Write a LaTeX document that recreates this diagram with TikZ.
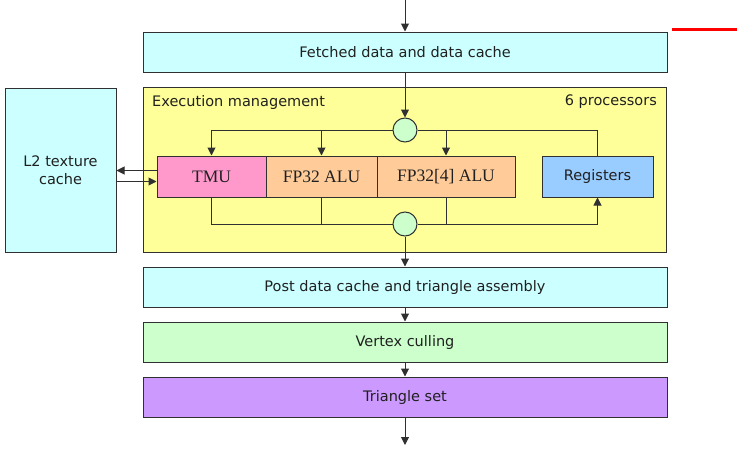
\documentclass[tikz,border=0pt]{standalone}
\usepackage{fontspec}
\setmainfont{DejaVu Sans}
\newfontfamily\serifface{Liberation Serif}
\usetikzlibrary{arrows.meta}

\definecolor{edge}{HTML}{303030}
\definecolor{ink}{HTML}{202020}
\definecolor{cyanfill}{HTML}{CCFFFF}
\definecolor{yellowfill}{HTML}{FFFF99}
\definecolor{pinkfill}{HTML}{FF99CC}
\definecolor{orangefill}{HTML}{FFCC99}
\definecolor{bluefill}{HTML}{99CCFF}
\definecolor{greenfill}{HTML}{CCFFCC}
\definecolor{violetfill}{HTML}{CC99FF}

\begin{document}
\begin{tikzpicture}[x=1pt,y=-1pt,
  box/.style={draw=edge, line width=1pt, inner sep=0pt, text=ink,
    font=\fontsize{14.5}{17}\selectfont},
  wide/.style={box, minimum width=524pt, minimum height=40pt},
  unit/.style={box, minimum height=41pt},
  serifunit/.style={unit, font=\serifface\fontsize{17.5}{20}\selectfont},
  junction/.style={draw=edge, line width=1pt, circle, fill=greenfill,
    minimum size=24pt, inner sep=0pt},
  lbl/.style={inner sep=0pt, text=ink, font=\fontsize{14.5}{17}\selectfont},
  arr/.style={draw=edge, line width=1pt, -{Triangle[length=8pt,width=8pt]}},
  wire/.style={draw=edge, line width=1pt},
]
\useasboundingbox (0,0) rectangle (737,450);

% pipeline stages
\node[wide, fill=cyanfill] (fetch) at (405,52) {Fetched data and data cache};
\node[box, fill=yellowfill, minimum width=523pt, minimum height=165pt] (exec) at (404.5,169.5) {};
\node[lbl, anchor=west] (execlbl) at (152,102) {Execution management};
\node[lbl, anchor=east] (proclbl) at (657,102) {6 processors};
\node[box, fill=cyanfill, minimum width=111pt, minimum height=164pt,
  align=center, font=\fontsize{14.5}{18}\selectfont] (l2) at (60.5,170) {L2 texture\\cache};

% processing units
\node[serifunit, fill=pinkfill, minimum width=109pt] (tmu) at (211.5,176.5) {TMU};
\node[serifunit, fill=orangefill, minimum width=111pt] (alu) at (321.5,176.5) {FP32 ALU};
\node[serifunit, fill=orangefill, minimum width=138pt] (alufour) at (446,176.5) {FP32[4] ALU};
\node[unit, fill=bluefill, minimum width=111pt] (reg) at (597.5,176.5) {Registers};

\node[junction] (cin) at (405,130) {};
\node[junction] (cout) at (405,224) {};

\node[wide, fill=cyanfill] (post) at (405,287) {Post data cache and triangle assembly};
\node[wide, fill=greenfill] (cull) at (405,342) {Vertex culling};
\node[wide, fill=violetfill] (tri) at (405,397) {Triangle set};

\coordinate (src) at (405,0);
\coordinate (sink) at (405,445);

% main flow
\draw[arr] (src) -- (fetch);
\draw[arr] (fetch) -- (cin);
\draw[arr] (cin.west) -| (tmu.north);
\draw[arr] (cin.west) -| (alu.north);
\draw[arr] (cin.east) -| (alufour.north);
\draw[wire] (cin.east) -| (reg.north);
\draw[wire] (tmu.south) |- (cout.west);
\draw[wire] (alu.south) |- (cout.west);
\draw[wire] (alufour.south) |- (cout.east);
\draw[arr] (cout.east) -| (reg.south);
\draw[arr] (cout) -- (post);
\draw[arr] (post) -- (cull);
\draw[arr] (cull) -- (tri);
\draw[arr] (tri) -- (sink);

% texture cache traffic
\coordinate (texout) at ([yshift=6pt]tmu.west);
\coordinate (texin) at ([yshift=-5pt]tmu.west);
\draw[arr] (texout) -- (texout -| l2.east);
\draw[arr] (texin -| l2.east) -- (texin);

% red rule at the top right
\draw[red, line width=3pt] (672,29) -- (737,29);
\end{tikzpicture}
\end{document}
